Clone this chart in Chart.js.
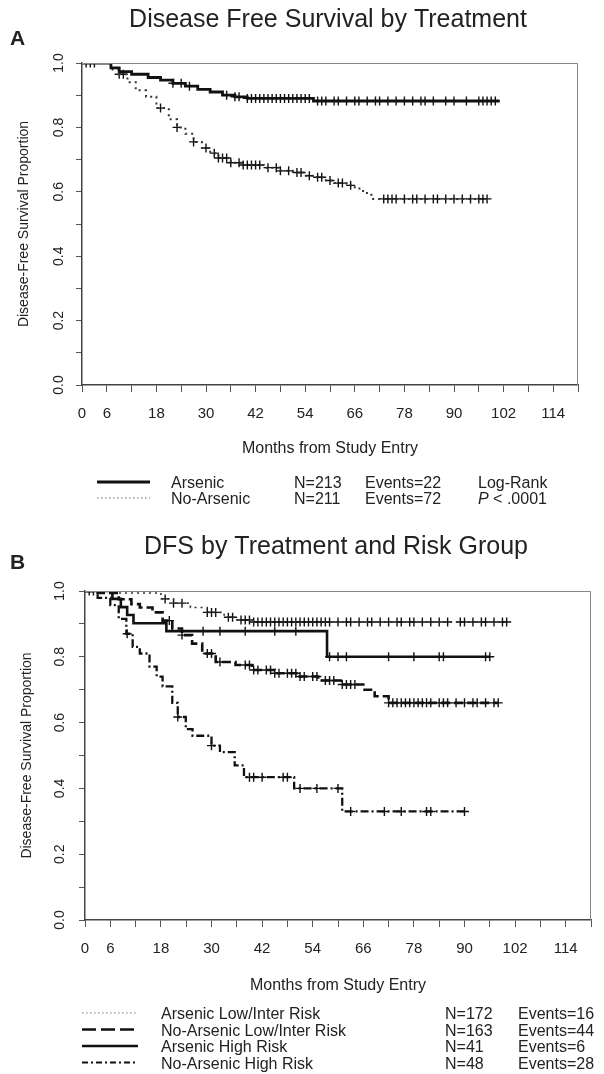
<!DOCTYPE html>
<html>
<head>
<meta charset="utf-8">
<script src="https://cdn.jsdelivr.net/npm/chart.js@4.4.0/dist/chart.umd.min.js"></script>
<style>
  html, body { margin: 0; padding: 0; background: #fff; }
  #wrap { position: relative; width: 604px; height: 1074px; }
  #wrap canvas { position: absolute; left: 0; top: 0; }
</style>
</head>
<body>
<div id="wrap">
  <canvas id="chartA" width="604" height="1074"></canvas>
  <canvas id="chartB" width="604" height="1074"></canvas>
</div>
<script>
// ---- axis ticks ----
var xTickLabels = [0, 6, 18, 30, 42, 54, 66, 78, 90, 102, 114];
var yTickLabels = [0.0, 0.2, 0.4, 0.6, 0.8, 1.0];

// ---- panel A: Kaplan-Meier steps (months, survival) ----
var arsTimesA = [0, 7, 9, 12, 16, 19, 22, 25, 28, 31, 34, 37, 40, 56, 101];
var arsSurvA  = [1.0, 0.985, 0.973, 0.965, 0.955, 0.947, 0.937, 0.928, 0.918, 0.91, 0.90, 0.895, 0.89, 0.882, 0.882];
var arsCensA  = [1, 2, 3, 22, 24, 26, 35, 37, 38, 40, 41, 42, 43, 44, 45, 46, 47, 48, 49, 50, 51, 52, 53, 54, 55, 57, 58, 59, 61, 62, 64, 66, 67, 69, 71, 72, 74, 76, 78, 80, 82, 83, 85, 88, 90, 93, 96, 97, 98, 99, 100];

var noArsTimesA = [0, 7, 9, 11, 13, 15.5, 18, 21, 23, 25, 27, 29, 31, 33, 36, 39, 44, 48, 51, 54, 56, 59, 61, 64, 66, 68, 70, 99];
var noArsSurvA  = [1.0, 0.98, 0.965, 0.94, 0.915, 0.895, 0.86, 0.825, 0.80, 0.78, 0.755, 0.736, 0.72, 0.705, 0.69, 0.683, 0.675, 0.665, 0.66, 0.65, 0.645, 0.635, 0.627, 0.62, 0.61, 0.596, 0.578, 0.578];
var noArsCensA  = [9, 10, 19, 23, 27, 30, 32, 33, 34, 35, 36, 38, 39, 40, 41, 42, 43, 45, 47, 48, 50, 52, 53, 55, 57, 58, 60, 62, 63, 65, 73, 74, 75, 76, 78, 80, 81, 83, 85, 86, 88, 90, 92, 94, 96, 97, 98];

var groupsA = ['Arsenic', 'No-Arsenic'];
var countsA = [213, 211];
var eventsA = [22, 72];

// ---- panel B ----
var arsLowTimes = [0, 8, 18, 21, 25, 29, 33, 36, 40, 100];
var arsLowSurv  = [1.0, 0.994, 0.976, 0.963, 0.95, 0.935, 0.92, 0.912, 0.906, 0.906];
var arsLowCens  = [19, 21, 23, 29, 30, 31, 34, 35, 37, 38, 39, 40, 41, 42, 43, 44, 45, 46, 47, 48, 49, 50, 51, 52, 53, 54, 55, 56, 57, 58, 60, 62, 63, 65, 67, 68, 70, 72, 74, 75, 77, 78, 80, 82, 84, 86, 89, 90, 92, 94, 95, 97, 99, 100];

var noArsLowTimes = [0, 3, 8, 11, 13, 16, 18.4, 20.7, 23, 25.4, 27.8, 31, 35.7, 39.6, 45, 50.6, 55.3, 60.7, 66, 68.7, 72, 98];
var noArsLowSurv  = [1.0, 0.994, 0.975, 0.96, 0.95, 0.935, 0.91, 0.886, 0.866, 0.84, 0.81, 0.784, 0.775, 0.76, 0.75, 0.74, 0.728, 0.716, 0.70, 0.68, 0.66, 0.66];
var noArsLowCens  = [1, 20, 23, 29, 30, 32, 38, 39, 40, 41, 43, 44, 45, 46, 48, 49, 50, 51, 52, 54, 55, 57, 58, 59, 61, 62, 63, 64, 72, 73, 74, 75, 76, 77, 78, 79, 80, 81, 82, 84, 85, 86, 88, 90, 92, 93, 95, 97, 98];

var arsHighTimes = [0, 6.5, 8.5, 10, 11.5, 19.3, 57.4, 96];
var arsHighSurv  = [1.0, 0.976, 0.951, 0.927, 0.902, 0.878, 0.80, 0.80];
var arsHighCens  = [2, 28, 32, 38, 45, 50, 58, 60, 62, 72, 78, 84, 85, 95, 96];

var noArsHighTimes = [0, 3, 6, 8, 9.8, 11.3, 13, 15.3, 17, 18.4, 20.7, 22, 23.9, 25.5, 30, 32, 35.5, 37.7, 49.6, 61, 90.6];
var noArsHighSurv  = [1.0, 0.979, 0.957, 0.915, 0.87, 0.83, 0.81, 0.77, 0.74, 0.71, 0.66, 0.617, 0.58, 0.56, 0.53, 0.51, 0.47, 0.434, 0.40, 0.33, 0.33];
var noArsHighCens  = [10, 22, 30, 39, 40, 42, 47, 48, 51, 55, 60, 63, 71, 75, 81, 82, 90];

var groupsB = ['Arsenic Low/Inter Risk', 'No-Arsenic Low/Inter Risk', 'Arsenic High Risk', 'No-Arsenic High Risk'];
var countsB = [172, 163, 41, 48];
var eventsB = [16, 44, 6, 28];

var FONT = '"Liberation Sans", Arial, Helvetica, sans-serif';
Chart.defaults.font.family = FONT;
Chart.defaults.color = '#222';

// survival value at time t (step function)
function kmAt(times, surv, t) {
    var s = surv[0];
    for (var i = 0; i < times.length; i++) {
        if (times[i] <= t) s = surv[i];
    }
    return s;
}

function stepPoints(times, surv) {
    return times.map(function (t, i) { return { x: t, y: surv[i] }; });
}

function censorPoints(times, surv, cens) {
    return cens.map(function (t) { return { x: t, y: kmAt(times, surv, t) }; });
}

function curve(times, surv, style) {
    return {
        type: 'line',
        data: stepPoints(times, surv),
        stepped: 'before',
        borderColor: style.color,
        borderWidth: style.width,
        borderDash: style.dash,
        borderCapStyle: 'butt',
        pointRadius: 0,
        fill: false
    };
}

function censors(times, surv, cens) {
    return {
        type: 'scatter',
        data: censorPoints(times, surv, cens),
        pointStyle: 'cross',
        pointRadius: 4.5,
        pointBorderWidth: 1.4,
        pointBorderColor: '#111',
        pointBackgroundColor: '#111',
        showLine: false
    };
}

// frame, rotated y labels, title, panel letter and legend
var panelDecor = {
    id: 'panelDecor',
    afterDraw: function (chart, args, opts) {
        var ctx = chart.ctx;
        var area = chart.chartArea;
        var ys = chart.scales.y;
        ctx.save();

        ctx.strokeStyle = '#888';
        ctx.lineWidth = 1;
        ctx.beginPath();
        ctx.moveTo(area.left, area.top + 0.5);
        ctx.lineTo(area.right - 0.5, area.top + 0.5);
        ctx.lineTo(area.right - 0.5, area.bottom);
        ctx.stroke();

        ctx.fillStyle = '#222';
        ctx.font = '14px ' + FONT;
        ctx.textAlign = 'center';
        ctx.textBaseline = 'middle';
        yTickLabels.forEach(function (v) {
            ctx.save();
            ctx.translate(opts.yLabelX, ys.getPixelForValue(v));
            ctx.rotate(-Math.PI / 2);
            ctx.fillText(v.toFixed(1), 0, 0);
            ctx.restore();
        });

        ctx.textBaseline = 'alphabetic';
        ctx.font = '25px ' + FONT;
        ctx.fillText(opts.title, opts.titleX, opts.titleY);
        ctx.textAlign = 'left';
        ctx.font = 'bold 21px ' + FONT;
        ctx.fillText(opts.letter, opts.letterX, opts.letterY);

        var lg = opts.legend;
        ctx.font = '16px ' + FONT;
        lg.names.forEach(function (name, i) {
            var y = lg.y0 + i * lg.dy;
            var st = lg.styles[i];
            ctx.save();
            ctx.strokeStyle = st.color;
            ctx.lineWidth = st.width;
            ctx.setLineDash(st.dash);
            ctx.beginPath();
            ctx.moveTo(lg.sample[0], y);
            ctx.lineTo(lg.sample[1], y);
            ctx.stroke();
            ctx.restore();
            ctx.fillText(name, lg.nameX, y + 6);
            ctx.fillText('N=' + lg.counts[i], lg.nX, y + 6);
            ctx.fillText('Events=' + lg.events[i], lg.eX, y + 6);
        });
        if (lg.extra) {
            ctx.fillText('Log-Rank', lg.extraX, lg.y0 + 6);
            ctx.font = 'italic 16px ' + FONT;
            ctx.fillText('P', lg.extraX, lg.y0 + lg.dy + 6);
            var w = ctx.measureText('P').width;
            ctx.font = '16px ' + FONT;
            ctx.fillText(' < .0001', lg.extraX + w, lg.y0 + lg.dy + 6);
        }
        ctx.restore();
    }
};

function scalesFor(xHeight) {
    return {
        x: {
            type: 'linear',
            min: 0,
            max: 120,
            ticks: {
                stepSize: 6,
                autoSkip: false,
                maxRotation: 0,
                padding: 13,
                color: '#222',
                font: { size: 15 },
                callback: function (v) { return xTickLabels.indexOf(v) >= 0 ? String(v) : ''; }
            },
            grid: { drawOnChartArea: false, drawTicks: true, tickLength: 7, tickColor: '#555' },
            border: { display: true, color: '#444', width: 1.5 },
            title: { display: true, text: 'Months from Study Entry', font: { size: 16 }, color: '#222', padding: 0 },
            afterFit: function (s) { s.height = xHeight; }
        },
        y: {
            min: 0,
            max: 1,
            ticks: { stepSize: 0.1, display: false },
            grid: { drawOnChartArea: false, drawTicks: true, tickLength: 6, tickColor: '#555' },
            border: { display: true, color: '#444', width: 1.5 },
            title: { display: true, text: 'Disease-Free Survival Proportion', font: { size: 14 }, color: '#222', padding: 0 },
            afterFit: function (s) { s.width = 66; }
        }
    };
}

var solid = { color: '#111', width: 2.8, dash: [] };
var dottedA = { color: '#333', width: 2, dash: [2, 4] };

new Chart(document.getElementById('chartA').getContext('2d'), {
    type: 'line',
    data: {
        datasets: [
            curve(arsTimesA, arsSurvA, solid),
            curve(noArsTimesA, noArsSurvA, dottedA),
            censors(arsTimesA, arsSurvA, arsCensA),
            censors(noArsTimesA, noArsSurvA, noArsCensA)
        ]
    },
    options: {
        responsive: false,
        animation: false,
        layout: { padding: { left: 16, right: 26, top: 63, bottom: 1074 - 385 - 73 } },
        scales: scalesFor(73),
        plugins: {
            legend: { display: false },
            tooltip: { enabled: false },
            panelDecor: {
                yLabelX: 59,
                title: 'Disease Free Survival by Treatment', titleX: 328, titleY: 27,
                letter: 'A', letterX: 10, letterY: 45,
                legend: {
                    names: groupsA, counts: countsA, events: eventsA,
                    styles: [solid, { color: '#666', width: 1, dash: [1.5, 2.5] }],
                    sample: [97, 150], nameX: 171, nX: 294, eX: 365,
                    y0: 482, dy: 16, extra: true, extraX: 478
                }
            }
        }
    },
    plugins: [panelDecor]
});

var dottedB = { color: '#333', width: 1.6, dash: [2, 4] };
var dashedB = { color: '#111', width: 2.6, dash: [9, 4] };
var solidB = { color: '#111', width: 2.6, dash: [] };
var dashDotB = { color: '#111', width: 2.3, dash: [8, 3, 2, 3] };

new Chart(document.getElementById('chartB').getContext('2d'), {
    type: 'line',
    data: {
        datasets: [
            curve(arsLowTimes, arsLowSurv, dottedB),
            curve(noArsLowTimes, noArsLowSurv, dashedB),
            curve(arsHighTimes, arsHighSurv, solidB),
            curve(noArsHighTimes, noArsHighSurv, dashDotB),
            censors(arsLowTimes, arsLowSurv, arsLowCens),
            censors(noArsLowTimes, noArsLowSurv, noArsLowCens),
            censors(arsHighTimes, arsHighSurv, arsHighCens),
            censors(noArsHighTimes, noArsHighSurv, noArsHighCens)
        ]
    },
    options: {
        responsive: false,
        animation: false,
        layout: { padding: { left: 19, right: 9, top: 591, bottom: 1074 - 920 - 75 } },
        scales: scalesFor(75),
        plugins: {
            legend: { display: false },
            tooltip: { enabled: false },
            panelDecor: {
                yLabelX: 60,
                title: 'DFS by Treatment and Risk Group', titleX: 336, titleY: 554,
                letter: 'B', letterX: 10, letterY: 569,
                legend: {
                    names: groupsB, counts: countsB, events: eventsB,
                    styles: [{ color: '#777', width: 1, dash: [1.5, 2.5] }, { color: '#111', width: 2.5, dash: [14, 5] }, solidB, { color: '#111', width: 2, dash: [6, 3, 2, 3] }],
                    sample: [82, 138], nameX: 161, nX: 445, eX: 518,
                    y0: 1013, dy: 16.5, extra: false
                }
            }
        }
    },
    plugins: [panelDecor]
});
</script>
</body>
</html>
